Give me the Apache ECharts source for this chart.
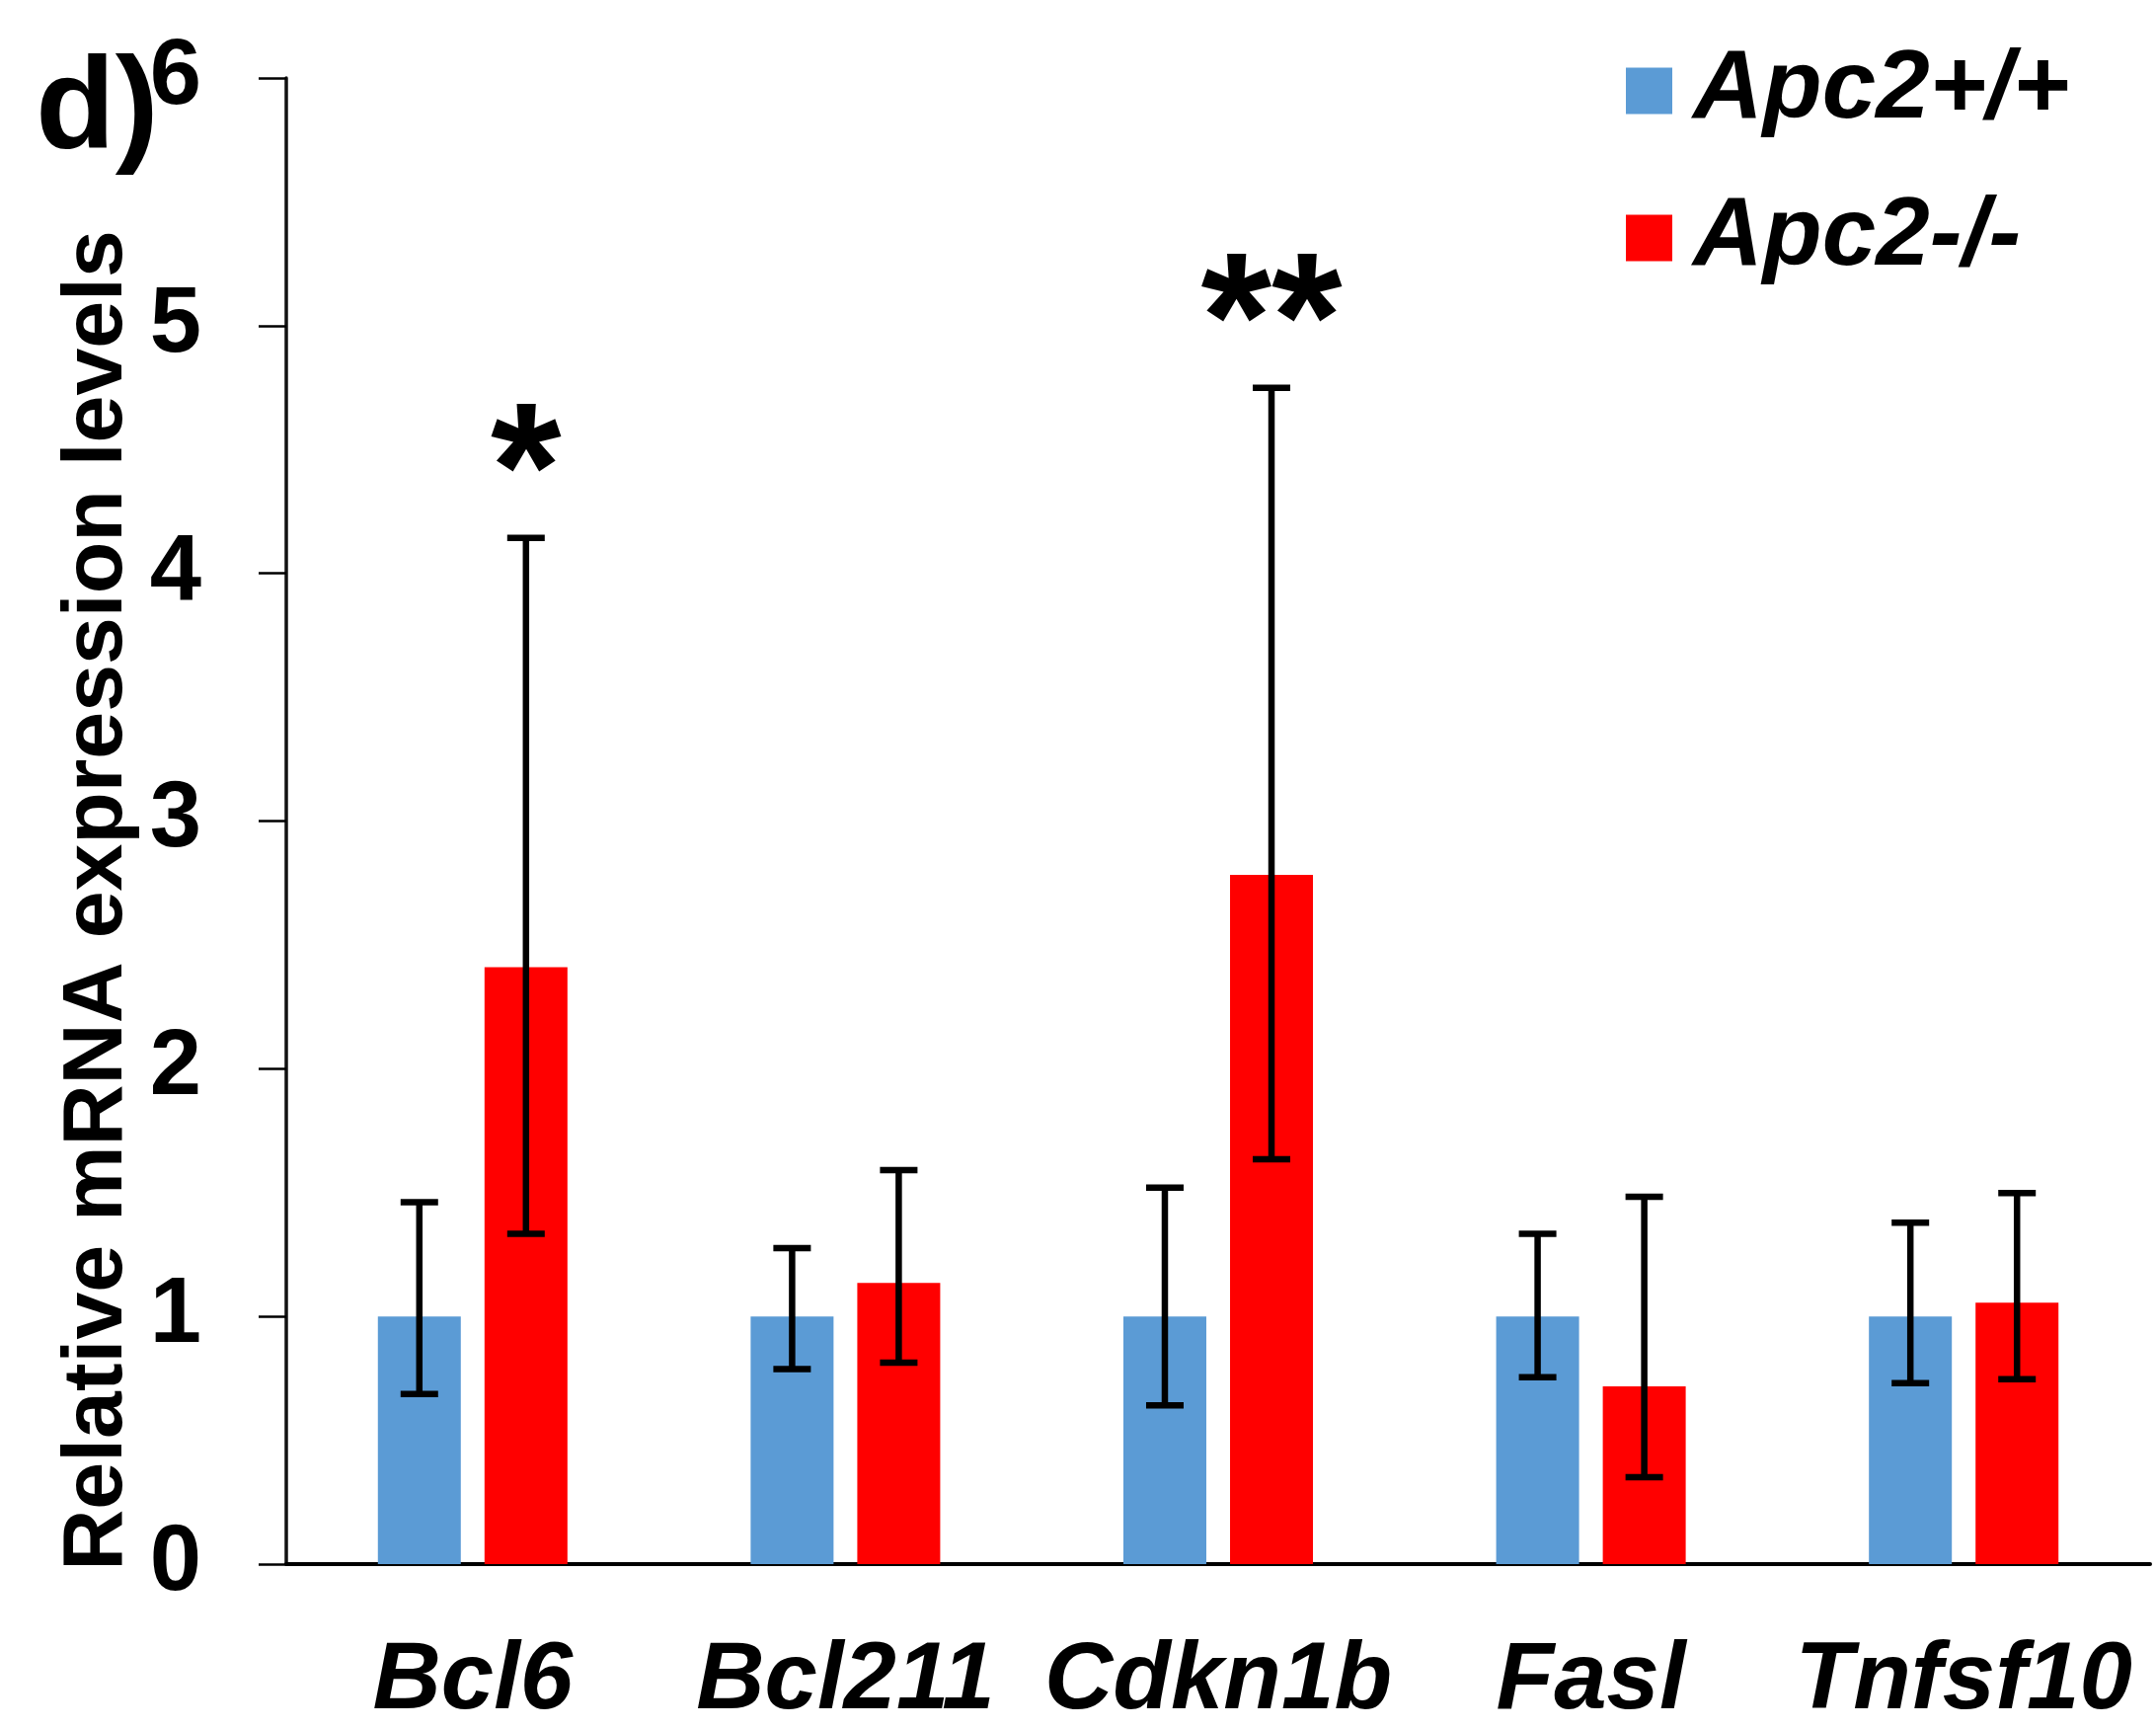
<!DOCTYPE html>
<html>
<head>
<meta charset="utf-8">
<script src="https://cdn.jsdelivr.net/npm/echarts@6/dist/echarts.min.js"></script>
<style>
html,body{margin:0;padding:0;background:#fff;overflow:hidden;}
#chart{width:2184px;height:1751px;}
</style>
</head>
<body>
<div id="chart"></div>
<script>
// ---- data ----
const categories = ['Bcl6', 'Bcl211', 'Cdkn1b', 'Fasl', 'Tnfsf10'];
const seriesNames = ['Apc2+/+', 'Apc2-/-'];
const wtValues = [1, 1, 1, 1, 1];
const koValues = [2.41, 1.135, 2.783, 0.718, 1.055];
const wtErrHigh = [1.461, 1.276, 1.520, 1.334, 1.378];
const wtErrLow = [0.687, 0.787, 0.641, 0.754, 0.731];
const koErrHigh = [4.143, 1.591, 4.749, 1.483, 1.498];
const koErrLow = [1.334, 0.813, 1.635, 0.351, 0.747];
const koSignificance = ['*', '', '**', '', ''];
const yTicks = [0, 1, 2, 3, 4, 5, 6];
const yTitle = 'Relative mRNA expression levels';
const panelLabel = 'd)';

// ---- style ----
const FONT = '"Liberation Sans", Arial, Helvetica, sans-serif';
const BLUE = '#5B9BD5';
const RED = '#FF0000';
const BAR_W = 84;
const BAR_GAP = 0.286;

const chart = echarts.init(document.getElementById('chart'), null, {renderer: 'canvas'});

function errorSeries(lowArr, highArr, side, sigArr) {
  return {
    type: 'custom',
    z: 10,
    silent: true,
    data: categories.map((c, i) => [i, lowArr[i], highArr[i]]),
    encode: {x: 0, y: [1, 2]},
    renderItem: function (params, api) {
      const i = api.value(0);
      const pLo = api.coord([i, api.value(1)]);
      const pHi = api.coord([i, api.value(2)]);
      const off = side * BAR_W * (1 + BAR_GAP) / 2;
      const x = pLo[0] + off;
      const cap = 19;
      const ls = {stroke: '#000', lineWidth: 6.5};
      const children = [
        {type: 'line', shape: {x1: x, y1: pLo[1], x2: x, y2: pHi[1]}, style: ls},
        {type: 'line', shape: {x1: x - cap, y1: pLo[1], x2: x + cap, y2: pLo[1]}, style: ls},
        {type: 'line', shape: {x1: x - cap, y1: pHi[1], x2: x + cap, y2: pHi[1]}, style: ls}
      ];
      const s = sigArr ? sigArr[params.dataIndex] : '';
      if (s) {
        children.push({
          type: 'text',
          x: x, y: pHi[1] - 60,
          style: {text: s, fill: '#000', font: 'bold 184px ' + FONT, align: 'center', verticalAlign: 'middle'}
        });
      }
      return {type: 'group', children: children};
    }
  };
}

const option = {
  animation: false,
  backgroundColor: '#fff',
  grid: {left: 290, right: 6, top: 79, bottom: 167, containLabel: false, outerBoundsMode: 'none'},
  legend: {
    data: seriesNames,
    orient: 'vertical',
    left: 1642,
    top: 38,
    icon: 'rect',
    itemWidth: 47,
    itemHeight: 47,
    itemGap: 51,
    textStyle: {
      fontFamily: FONT, fontSize: 98, fontWeight: 'bold', fontStyle: 'italic',
      color: '#000', padding: [0, 0, 0, 16]
    }
  },
  xAxis: {
    type: 'category',
    data: categories,
    axisLine: {show: true, lineStyle: {color: '#000', width: 4}},
    axisTick: {show: false},
    axisLabel: {
      interval: 0, margin: 72, color: '#000',
      fontFamily: FONT, fontSize: 96, fontWeight: 'bold', fontStyle: 'italic'
    },
    splitLine: {show: false}
  },
  yAxis: {
    type: 'value',
    min: yTicks[0],
    max: yTicks[yTicks.length - 1],
    interval: 1,
    axisLine: {show: true, lineStyle: {color: '#111', width: 3.5}},
    axisTick: {show: true, inside: false, length: 28, lineStyle: {color: '#000', width: 2.5}},
    axisLabel: {
      margin: 86, color: '#000',
      fontFamily: FONT, fontSize: 94, fontWeight: 'bold'
    },
    splitLine: {show: false}
  },
  graphic: [
    {
      type: 'text', x: 36, y: 114,
      style: {text: panelLabel, fill: '#000', font: 'bold 132px ' + FONT, align: 'left', verticalAlign: 'middle'}
    },
    {
      type: 'text', x: 99, y: 912, rotation: Math.PI / 2,
      style: {text: yTitle, fill: '#000', font: 'bold 86px ' + FONT, align: 'center', verticalAlign: 'middle'}
    }
  ],
  series: [
    {
      name: seriesNames[0], type: 'bar', data: wtValues,
      barWidth: BAR_W, barGap: (BAR_GAP * 100) + '%',
      itemStyle: {color: BLUE}
    },
    {
      name: seriesNames[1], type: 'bar', data: koValues,
      barWidth: BAR_W, barGap: (BAR_GAP * 100) + '%',
      itemStyle: {color: RED}
    },
    errorSeries(wtErrLow, wtErrHigh, -1, null),
    errorSeries(koErrLow, koErrHigh, 1, koSignificance)
  ]
};
chart.setOption(option);
</script>
</body>
</html>
